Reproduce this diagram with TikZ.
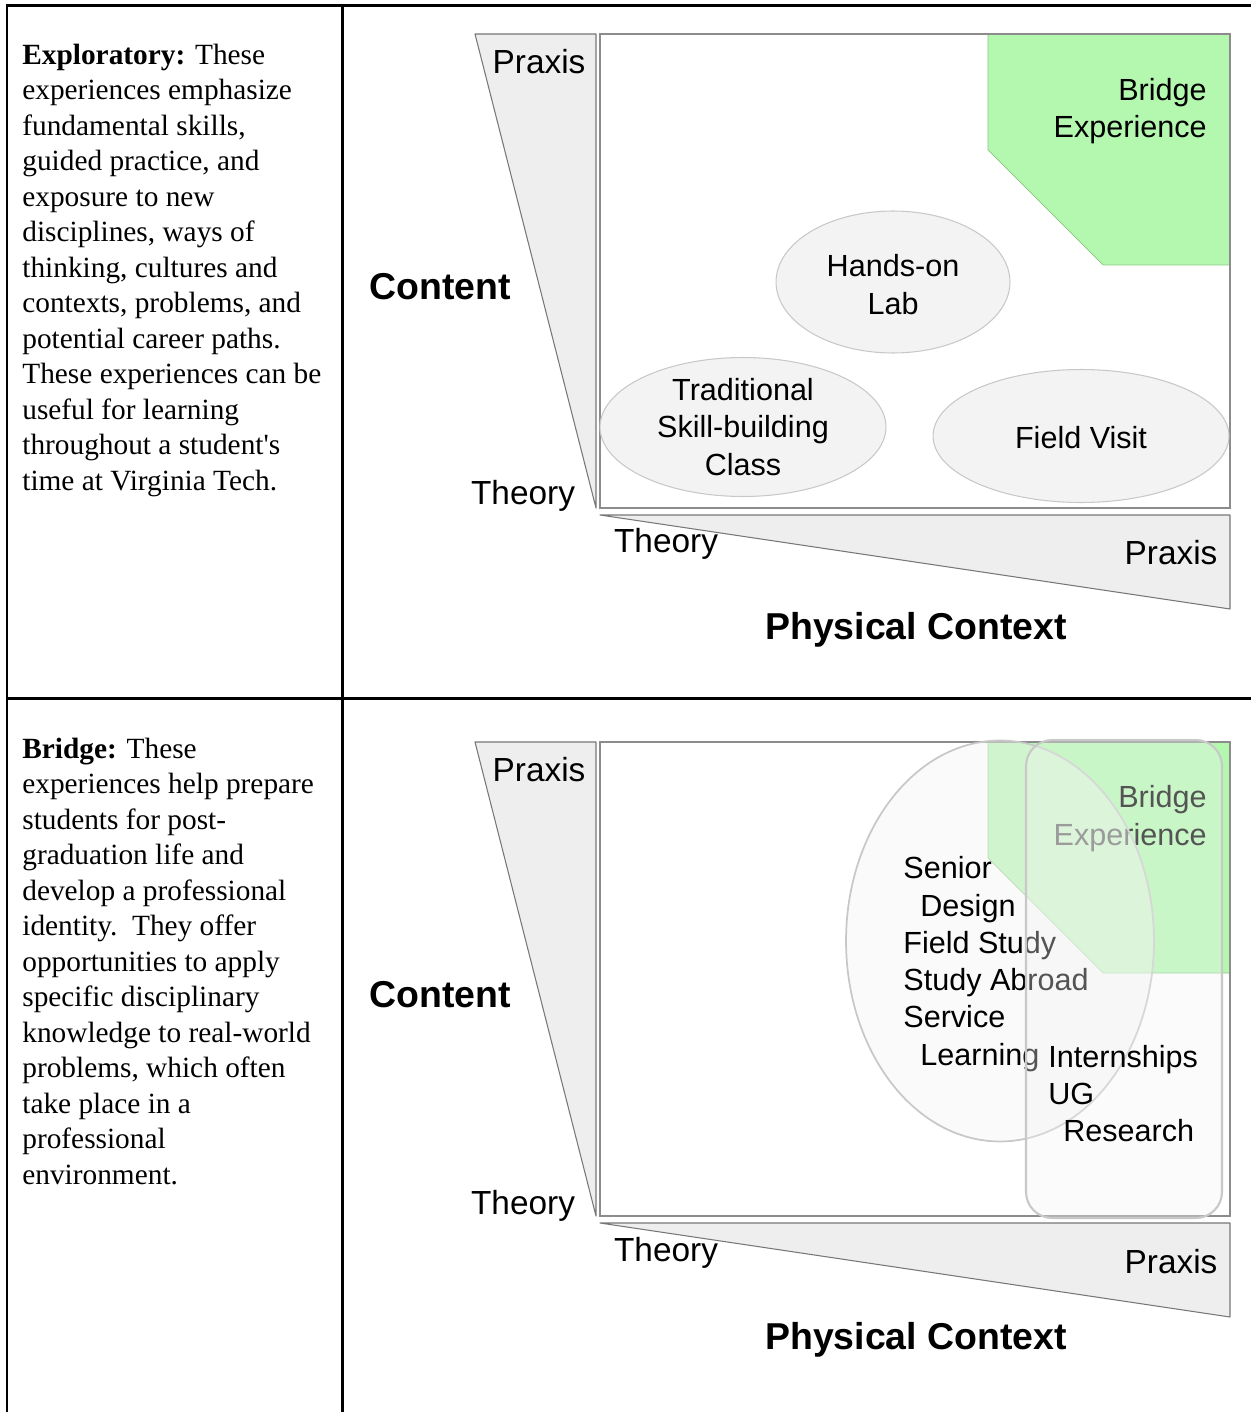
\documentclass[tikz,border=0pt]{standalone}
\usepackage{fontspec}
\setmainfont{Liberation Serif}
\setsansfont{Liberation Sans}
\usetikzlibrary{shapes.geometric}
\definecolor{wedgefill}{HTML}{EEEEEE}
\definecolor{wedgeline}{HTML}{777777}
\definecolor{boxline}{HTML}{8C8C8C}
\definecolor{blobfill}{HTML}{F3F3F3}
\definecolor{blobline}{HTML}{C8C8C8}
\definecolor{bridgegreen}{HTML}{B4F8B0}
\definecolor{bridgeline}{HTML}{86C982}

\begin{document}
\begin{tikzpicture}[x=0.02cm, y=-0.02cm,
    rule/.style={line width=0.06cm, line cap=rect},
    desc/.style={font=\fontsize{16.7}{20.2}\selectfont, align=left, inner sep=0pt, anchor=north west},
    endlbl/.style={font=\sffamily\fontsize{19}{22}\selectfont, inner sep=0pt},
    axistitle/.style={font=\sffamily\bfseries\fontsize{21.3}{25}\selectfont, inner sep=0pt},
    lbl/.style={font=\sffamily\fontsize{17.4}{21.2}\selectfont, align=center, inner sep=0pt},
    wedge/.style={draw=wedgeline, fill=wedgefill, line width=0.6pt, line join=round},
    blob/.style={ellipse, draw=blobline, fill=blobfill, line width=0.6pt, inner sep=0pt}]

    \useasboundingbox (0,0) rectangle (1250,1412);

    % table rules
    \draw[rule] (7,1412) -- (7,6) -- (1250,6);
    \draw[rule] (342,6) -- (342,1412);
    \draw[rule] (7,698) -- (1250,698);

    \node[desc] (exploratory) at (22,43.5) {\textbf{Exploratory:} These\\
        experiences emphasize\\ fundamental skills,\\ guided practice, and\\
        exposure to new\\ disciplines, ways of\\ thinking, cultures and\\
        contexts, problems, and\\ potential career paths.\\
        These experiences can be\\ useful for learning\\
        throughout a student\textquotesingle s\\ time at Virginia Tech.};
    \node[desc] (bridgedesc) at (22,737.5) {\textbf{Bridge:} These\\
        experiences help prepare\\ students for post-\\ graduation life and\\
        develop a professional\\ identity.\ \ They offer\\
        opportunities to apply\\ specific disciplinary\\
        knowledge to real-world\\ problems, which often\\ take place in a\\
        professional\\ environment.};

    % top panel
    \draw[wedge] (475,34) -- (596,34) -- (596,508) -- cycle;
    \draw[wedge] (600,515) -- (1230,515) -- (1230,609) -- cycle;
    \fill[bridgegreen, draw=bridgeline] (988,34) -- (1230,34) -- (1230,265) -- (1103,265) -- (988,150) -- cycle;
    \draw[boxline, line width=0.8pt] (600,34) rectangle (1230,508);

    \node[endlbl] (cpraxis) at (539,62) {Praxis};
    \node[endlbl] (ctheory) at (523,496) {Theory};
    \node[axistitle] (content) at (440,287) {Content};
    \node[endlbl] (ptheory) at (666,544) {Theory};
    \node[endlbl] (ppraxis) at (1171,553) {Praxis};
    \node[axistitle] (physical) at (916,630) {Physical Context};
    \node[lbl, align=right, anchor=east] (bridge) at (1207,111) {Bridge\\Experience};

    \node[blob, minimum width=4.68cm, minimum height=2.84cm] (handson) at (893,282) {};
    \node[lbl] (handsontxt) at (893,284.5) {Hands-on\\Lab};
    \node[blob, minimum width=5.72cm, minimum height=2.78cm] (trad) at (743,427) {};
    \node[lbl] (tradtxt) at (trad) {Traditional\\Skill-building\\Class};
    \node[blob, minimum width=5.92cm, minimum height=2.66cm] (visit) at (1081,436) {};
    \node[lbl] (visittxt) at (1081,438) {Field Visit};

    % bottom panel
    \draw[wedge] (475,742) -- (596,742) -- (596,1216) -- cycle;
    \draw[wedge] (600,1223) -- (1230,1223) -- (1230,1317) -- cycle;
    \fill[bridgegreen, draw=bridgeline] (988,742) -- (1230,742) -- (1230,973) -- (1103,973) -- (988,858) -- cycle;
    \draw[boxline, line width=0.8pt] (600,742) rectangle (1230,1216);

    \node[endlbl] (cpraxis2) at (539,770) {Praxis};
    \node[endlbl] (ctheory2) at (523,1206) {Theory};
    \node[axistitle] (content2) at (440,995) {Content};
    \node[endlbl] (ptheory2) at (666,1253) {Theory};
    \node[endlbl] (ppraxis2) at (1171,1262) {Praxis};
    \node[axistitle] (physical2) at (916,1340) {Physical Context};
    \node[lbl, align=right, anchor=east] (bridge2) at (1207,818.5) {Bridge\\Experience};

    \node[blob, fill opacity=0.45, line width=1pt, minimum width=6.16cm, minimum height=8.02cm] (senior) at (1000,941) {};
    \node[lbl, align=left, anchor=west] (seniortxt) at (903,964) {Senior\\\hspace*{0.34cm}Design\\Field Study\\Study Abroad\\Service\\\hspace*{0.34cm}Learning};
    \node[draw=blobline, fill=blobfill, fill opacity=0.35, line width=1.2pt, rounded corners=0.52cm,
        minimum width=3.92cm, minimum height=9.56cm, inner sep=0pt] (ugbox) at (1124,979) {};
    \node[lbl, align=left, anchor=west] (ugtxt) at (1048,1093.5) {Internships\\UG\\\hspace*{0.3cm}Research};
\end{tikzpicture}
\end{document}
